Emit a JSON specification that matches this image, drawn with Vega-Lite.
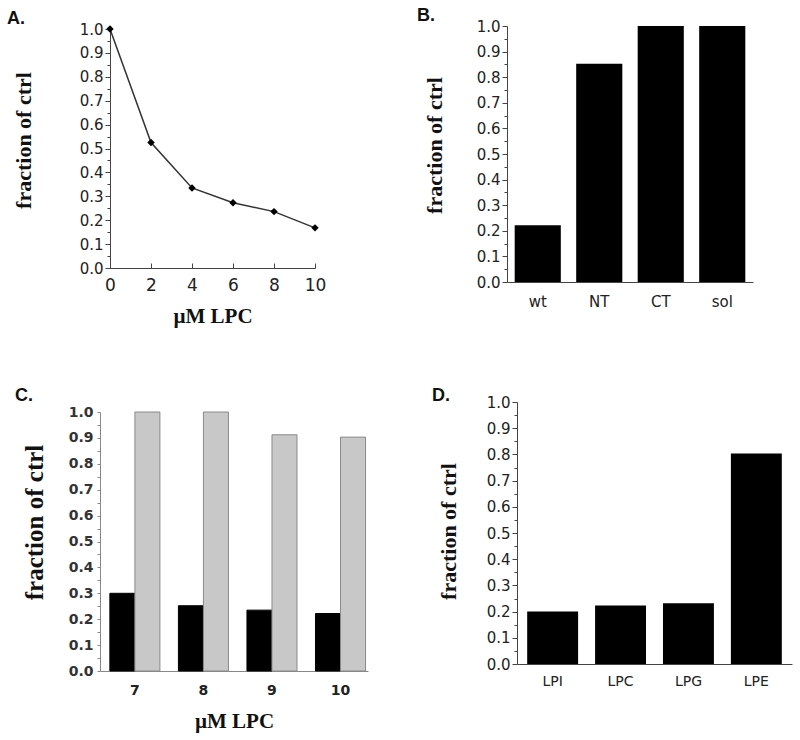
{
  "$schema": "https://vega.github.io/schema/vega-lite/v6.json",
  "background": "white",
  "padding": {"left": 7, "top": 7, "right": 5, "bottom": 5},
  "datasets": {
    "a": [
      {"lpc": 0, "frac": 1.0},
      {"lpc": 2, "frac": 0.525},
      {"lpc": 4, "frac": 0.335},
      {"lpc": 6, "frac": 0.273},
      {"lpc": 8, "frac": 0.236},
      {"lpc": 10, "frac": 0.168}
    ],
    "b": [
      {"construct": "wt", "frac": 0.222},
      {"construct": "NT", "frac": 0.853},
      {"construct": "CT", "frac": 1.0},
      {"construct": "sol", "frac": 1.0}
    ],
    "c": [
      {"lpc": "7", "series": "filled", "frac": 0.30},
      {"lpc": "7", "series": "hatched", "frac": 1.0},
      {"lpc": "8", "series": "filled", "frac": 0.252},
      {"lpc": "8", "series": "hatched", "frac": 1.0},
      {"lpc": "9", "series": "filled", "frac": 0.235},
      {"lpc": "9", "series": "hatched", "frac": 0.912},
      {"lpc": "10", "series": "filled", "frac": 0.222},
      {"lpc": "10", "series": "hatched", "frac": 0.903}
    ],
    "d": [
      {"lipid": "LPI", "frac": 0.20},
      {"lipid": "LPC", "frac": 0.223},
      {"lipid": "LPG", "frac": 0.232},
      {"lipid": "LPE", "frac": 0.803}
    ]
  },
  "config": {
    "view": {"stroke": null},
    "axis": {
      "labelFont": "DejaVu Sans",
      "labelColor": "#222",
      "labelFontSize": 15,
      "titleFont": "Liberation Serif",
      "titleFontWeight": "bold",
      "titleFontSize": 22,
      "titleColor": "#111",
      "domainColor": "#444",
      "tickColor": "#444",
      "labelFlush": false,
      "grid": false
    },
    "axisX": {"titleFontSize": 21},
    "title": {
      "font": "Liberation Sans",
      "fontWeight": "bold",
      "fontSize": 18,
      "color": "#111",
      "anchor": "start",
      "frame": "group"
    }
  },
  "bounds": "flush",
  "spacing": 376,
  "vconcat": [
    {
      "bounds": "flush",
      "spacing": 192,
      "hconcat": [
        {
          "width": 215,
          "height": 242,
          "title": {"text": "A.", "dx": -93, "dy": 10},
          "data": {"name": "a"},
          "encoding": {
            "x": {
              "field": "lpc", "type": "quantitative",
              "scale": {"domain": [0, 10], "range": [10, 215], "nice": false},
              "axis": {"title": "µM LPC", "values": [0, 2, 4, 6, 8, 10], "tickSize": -5, "labelPadding": 14, "labelFontSize": 17, "titlePadding": 12}
            },
            "y": {
              "field": "frac", "type": "quantitative",
              "scale": {"domain": [0, 1], "range": [242, 3], "nice": false},
              "axis": {
                "title": "fraction of ctrl",
                "titleY": 114,
                "offset": -10,
                "values": [0, 0.05, 0.1, 0.15, 0.2, 0.25, 0.3, 0.35, 0.4, 0.45, 0.5, 0.55, 0.6, 0.65, 0.7, 0.75, 0.8, 0.85, 0.9, 0.95, 1.0],
                "labelExpr": "abs(datum.value*10 - round(datum.value*10)) < 0.001 ? format(datum.value, '.1f') : ''",
                "labelOverlap": false,
                "tickSize": {"condition": {"test": "abs(datum.value*10 - round(datum.value*10)) < 0.001", "value": 5}, "value": 3},
                "labelPadding": 2,
                "titlePadding": 44
              }
            }
          },
          "layer": [
            {"mark": {"type": "line", "color": "#333", "strokeWidth": 1.5}},
            {"mark": {"type": "point", "shape": "diamond", "filled": true, "color": "#000", "size": 55, "opacity": 1}}
          ]
        },
        {
          "width": 246,
          "height": 256,
          "title": {"text": "B.", "dx": -90, "dy": 10},
          "data": {"name": "b"},
          "mark": {"type": "bar", "color": "#000"},
          "encoding": {
            "x": {
              "field": "construct", "type": "nominal", "sort": null,
              "scale": {"paddingInner": 0.25, "paddingOuter": 0.125},
              "axis": {"title": null, "labelAngle": 0, "ticks": false, "labelPadding": 12}
            },
            "y": {
              "field": "frac", "type": "quantitative",
              "scale": {"domain": [0, 1], "nice": false},
              "axis": {
                "title": "fraction of ctrl",
                "titleY": 119,
                "values": [0, 0.05, 0.1, 0.15, 0.2, 0.25, 0.3, 0.35, 0.4, 0.45, 0.5, 0.55, 0.6, 0.65, 0.7, 0.75, 0.8, 0.85, 0.9, 0.95, 1.0],
                "labelExpr": "abs(datum.value*10 - round(datum.value*10)) < 0.001 ? format(datum.value, '.1f') : ''",
                "labelOverlap": false,
                "tickSize": {"condition": {"test": "abs(datum.value*10 - round(datum.value*10)) < 0.001", "value": 5}, "value": 3},
                "labelPadding": 2,
                "titlePadding": 30
              }
            }
          }
        }
      ]
    },
    {
      "bounds": "flush",
      "spacing": 149,
      "hconcat": [
        {
          "width": 268,
          "height": 269,
          "title": {"text": "C.", "dx": -85, "dy": 7},
          "data": {"name": "c"},
          "mark": {"type": "bar", "strokeWidth": 1},
          "encoding": {
            "x": {
              "field": "lpc", "type": "ordinal", "sort": ["7", "8", "9", "10"],
              "scale": {"paddingInner": 0.27, "paddingOuter": 0.09, "align": 0.8},
              "axis": {"title": "µM LPC", "labelAngle": 0, "ticks": false, "labelPadding": 12, "labelFontWeight": "bold", "labelFontSize": 14, "domainColor": "#888", "titlePadding": 13}
            },
            "xOffset": {"field": "series", "type": "nominal", "sort": ["filled", "hatched"], "scale": {"paddingInner": 0, "paddingOuter": 0}},
            "y": {
              "field": "frac", "type": "quantitative",
              "scale": {"domain": [0, 1], "range": [269, 10], "nice": false},
              "axis": {
                "title": "fraction of ctrl",
                "titleFontSize": 25,
                "titleY": 120,
                "values": [0, 0.05, 0.1, 0.15, 0.2, 0.25, 0.3, 0.35, 0.4, 0.45, 0.5, 0.55, 0.6, 0.65, 0.7, 0.75, 0.8, 0.85, 0.9, 0.95, 1.0],
                "labelExpr": "abs(datum.value*10 - round(datum.value*10)) < 0.001 ? format(datum.value, '.1f') : ''",
                "labelOverlap": false,
                "labelFontWeight": "bold",
                "labelFontSize": 14,
                "labelColor": "#333",
                "domainColor": "#888",
                "tickColor": "#888",
                "tickSize": 3,
                "labelPadding": 4,
                "titlePadding": 21
              }
            },
            "fill": {"field": "series", "type": "nominal", "scale": {"domain": ["filled", "hatched"], "range": ["#000000", "#c8c8c8"]}, "legend": null},
            "stroke": {"field": "series", "type": "nominal", "scale": {"domain": ["filled", "hatched"], "range": ["#000000", "#8a8a8a"]}, "legend": null}
          }
        },
        {
          "width": 275,
          "height": 262,
          "title": {"text": "D.", "dx": -85, "dy": 14},
          "data": {"name": "d"},
          "mark": {"type": "bar", "color": "#000"},
          "encoding": {
            "x": {
              "field": "lipid", "type": "nominal", "sort": null,
              "scale": {"paddingInner": 0.25, "paddingOuter": 0.15},
              "axis": {"title": null, "labelAngle": 0, "ticks": false, "labelPadding": 10, "labelFontSize": 14}
            },
            "y": {
              "field": "frac", "type": "quantitative",
              "scale": {"domain": [0, 1], "nice": false},
              "axis": {
                "title": "fraction of ctrl",
                "titleY": 129,
                "values": [0, 0.05, 0.1, 0.15, 0.2, 0.25, 0.3, 0.35, 0.4, 0.45, 0.5, 0.55, 0.6, 0.65, 0.7, 0.75, 0.8, 0.85, 0.9, 0.95, 1.0],
                "labelExpr": "abs(datum.value*10 - round(datum.value*10)) < 0.001 ? format(datum.value, '.1f') : ''",
                "labelOverlap": false,
                "tickSize": {"condition": {"test": "abs(datum.value*10 - round(datum.value*10)) < 0.001", "value": 5}, "value": 3},
                "labelPadding": 2,
                "titlePadding": 26
              }
            }
          }
        }
      ]
    }
  ]
}
